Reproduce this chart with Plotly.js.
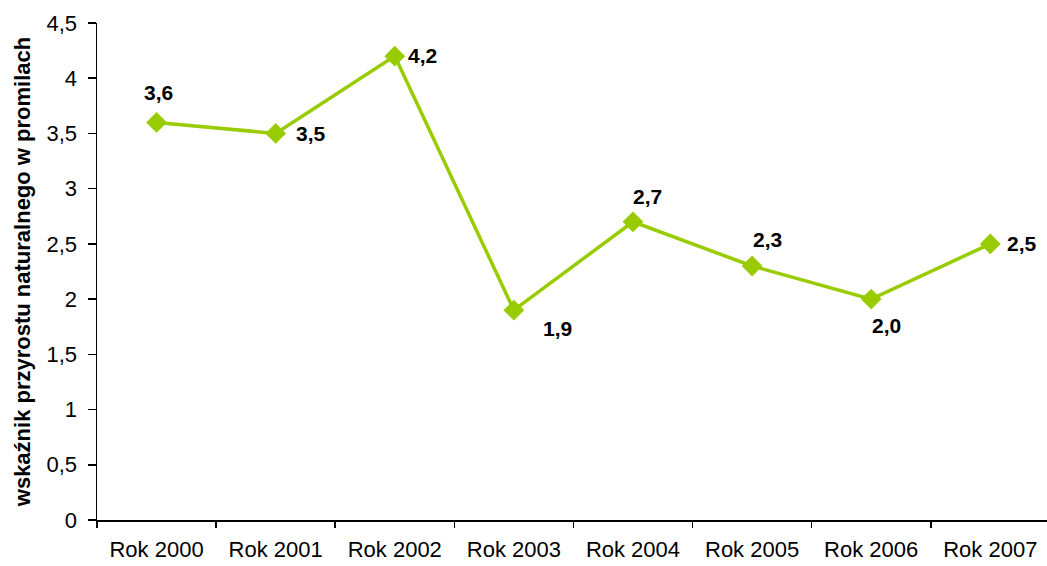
<!DOCTYPE html>
<html><head><meta charset="utf-8">
<script src="https://cdn.plot.ly/plotly-3.0.1.min.js"></script>
<style>html,body{margin:0;padding:0;background:#fff}#c{width:1047px;height:566px}</style>
</head><body><div id="c"></div>
<script>
var categories = ["Rok 2000","Rok 2001","Rok 2002","Rok 2003","Rok 2004","Rok 2005","Rok 2006","Rok 2007"];
var values = [3.6, 3.5, 4.2, 1.9, 2.7, 2.3, 2.0, 2.5];
var labelShiftX = [2, 35, 28, 44, 15, 15, 15, 32];
var labelShiftY = [30, 0, 1, -18, 25, 26, -26, 0];
var yTickVals = [0,0.5,1,1.5,2,2.5,3,3.5,4,4.5];
var yTickText = ["0","0,5","1","1,5","2","2,5","3","3,5","4","4,5"];

var green = "#99cc00";
var trace = {
  x: categories.map(function(c,i){return i;}),
  y: values,
  mode: "lines+markers",
  line: {color: green, width: 3.5},
  marker: {symbol: "diamond", size: 16, color: green},
  hoverinfo: "skip"
};
var ann = values.map(function(v,i){
  return {x: i, y: v, xref: "x", yref: "y", text: v.toFixed(1).replace(".", ","),
    showarrow: false, xshift: labelShiftX[i], yshift: labelShiftY[i],
    font: {family: "Liberation Sans, Arial, sans-serif", size: 21, color: "#000", weight: "bold"}};
});
var layout = {
  width: 1047, height: 566,
  margin: {l: 97, r: 0, t: 23, b: 46, pad: 0},
  paper_bgcolor: "#fff", plot_bgcolor: "#fff",
  showlegend: false,
  font: {family: "Liberation Sans, Arial, sans-serif", size: 22, color: "#000"},
  xaxis: {
    range: [-0.5, 7.476], tickmode: "array",
    tickvals: categories.map(function(c,i){return i;}), ticktext: categories,
    tickfont: {size: 22},
    showgrid: false, zeroline: false, showline: true, linecolor: "#000", linewidth: 1.5,
    ticks: "outside", ticklen: 0, tickcolor: "rgba(0,0,0,0)", ticklabelstandoff: 9, fixedrange: true
  },
  xaxis2: {
    overlaying: "x", range: [-0.5, 7.476], tickmode: "array",
    tickvals: [-0.5,0.5,1.5,2.5,3.5,4.5,5.5,6.5], ticktext: ["","","","","","","",""],
    ticks: "outside", ticklen: 7, tickwidth: 1.5, tickcolor: "#000",
    showgrid: false, zeroline: false, showline: false, anchor: "y"
  },
  yaxis: {
    range: [0, 4.5], tickmode: "array", tickvals: yTickVals, ticktext: yTickText,
    tickfont: {size: 22},
    showgrid: false, zeroline: false, showline: true, linecolor: "#000", linewidth: 1.5,
    ticks: "outside", ticklen: 8, tickwidth: 1.5, tickcolor: "#000", ticklabelstandoff: 6,
    title: {text: "wskaźnik przyrostu naturalnego w promilach", font: {size: 22, weight: "bold"}, standoff: 10}
  },
  annotations: ann
};
var dummy = {x: [0], y: [0], xaxis: "x2", mode: "markers", marker: {opacity: 0}, hoverinfo: "skip"};
Plotly.newPlot("c", [trace, dummy], layout, {staticPlot: true});
</script></body></html>
